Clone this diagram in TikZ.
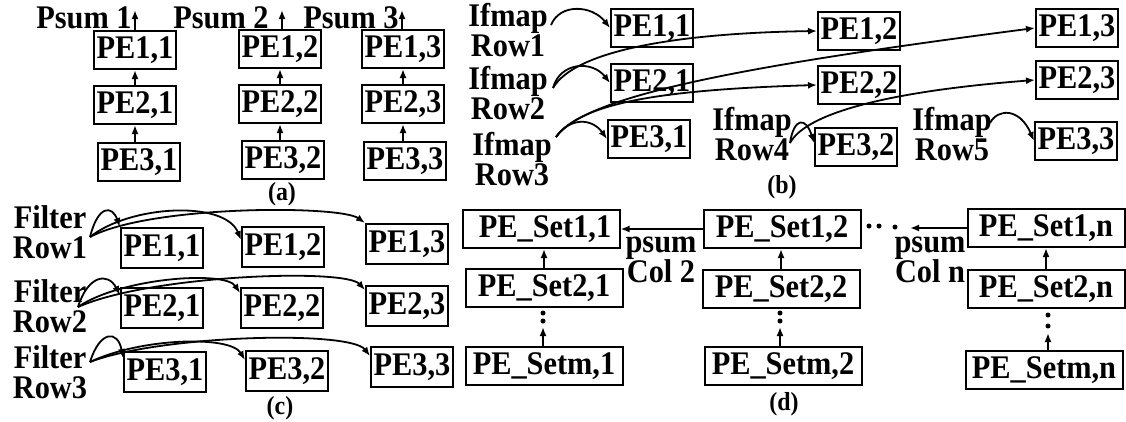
\documentclass[tikz,border=0pt]{standalone}
\usepackage{fontspec}
\setmainfont{Liberation Serif}[FakeStretch=0.92]
\usetikzlibrary{arrows.meta}
\newcommand\pefont{\fontsize{33}{30}\selectfont\lineskiplimit=-8pt\bfseries}
\newcommand\capfont{\fontsize{26}{26}\selectfont\bfseries}
\tikzset{
  pe/.style={draw, line width=2pt, inner sep=0pt, minimum width=82pt, minimum height=38pt, font=\pefont},
  peset/.style={pe, minimum width=157pt},
  lbl/.style={align=center, inner sep=0pt, font=\pefont},
  sublbl/.style={inner sep=0pt, font=\capfont, anchor=base},
  arr/.style={line width=1.8pt, -{Latex[length=9pt,width=7pt]}},
  dot/.style={fill, circle, inner sep=0pt, minimum size=5pt},
}
\begin{document}
\begin{tikzpicture}[x=1pt, y=-1pt]
\useasboundingbox (0,0) rectangle (1126,421);

% ---------------- (a) partial sums flow up each column ----------------
\node[lbl, anchor=base] (ps1) at (84,28) {Psum 1};
\node[lbl, anchor=base] (ps2) at (221,28) {Psum 2};
\node[lbl, anchor=base] (ps3) at (351,28) {Psum 3};
\node[pe] (A11) at (135,50) {PE1,1};
\node[pe] (A21) at (135,105) {PE2,1};
\node[pe] (A31) at (139,162) {PE3,1};
\node[pe] (A12) at (280,49) {PE1,2};
\node[pe] (A22) at (280,104) {PE2,2};
\node[pe] (A32) at (283,160) {PE3,2};
\node[pe] (A13) at (403,49) {PE1,3};
\node[pe] (A23) at (403,104) {PE2,3};
\node[pe] (A33) at (405,161) {PE3,3};
\coordinate (P1t) at (135,10);
\coordinate (P2t) at (282,10);
\coordinate (P3t) at (402,10);
\draw[arr] (A11.north) -- (P1t);
\draw[arr] (A12.north -| P2t) -- (P2t);
\draw[arr] (A13.north -| P3t) -- (P3t);
\draw[arr] (A21.south |- A31.north) -- (A21.south);
\draw[arr] (A21.north) -- (A11.south);
\draw[arr] (A22.south |- A32.north) -- (A22.south);
\draw[arr] (A22.north) -- (A12.south);
\draw[arr] (A23.south |- A33.north) -- (A23.south);
\draw[arr] (A23.north) -- (A13.south);
\node[sublbl] (capa) at (282,200) {(a)};

% ---------------- (b) ifmap rows along the diagonals ----------------
\node[lbl] (R1) at (508,30) {Ifmap\\Row1};
\node[lbl] (R2) at (508,93) {Ifmap\\Row2};
\node[lbl] (R3) at (512,159) {Ifmap\\Row3};
\node[lbl] (R4) at (752,134) {Ifmap\\Row4};
\node[lbl] (R5) at (952,134) {Ifmap\\Row5};
\node[pe] (B11) at (652,28) {PE1,1};
\node[pe] (B21) at (652,83) {PE2,1};
\node[pe] (B31) at (649,139) {PE3,1};
\node[pe] (B12) at (859,31) {PE1,2};
\node[pe] (B22) at (859,85) {PE2,2};
\node[pe] (B32) at (856,147) {PE3,2};
\node[pe] (B13) at (1077,28) {PE1,3};
\node[pe] (B23) at (1077,80) {PE2,3};
\node[pe] (B33) at (1076,141) {PE3,3};
\coordinate (r1s) at (551,25);
\coordinate (r2s) at (553,88);
\coordinate (r3s) at (556,137);
\coordinate (r4s) at (790,143);
\coordinate (r5s) at (990,123);
\draw[arr] (r1s) .. controls (560,3) and (592,5) .. (B11.west);
\draw[arr] (r2s) .. controls (560,62) and (592,60) .. (B21.west);
\draw[arr] (r2s) .. controls (575,50) and (680,33) .. (B12.west);
\draw[arr] (r3s) .. controls (570,117) and (592,118) .. (B31.west);
\draw[arr] (r3s) .. controls (580,105) and (650,90) .. (B22.west);
\draw[arr] (r3s) .. controls (585,95) and (750,65) .. (B13.west);
\draw[arr] (r4s) .. controls (794,117) and (806,117) .. ([yshift=4pt]B32.west);
\draw[arr] (r4s) .. controls (805,115) and (880,92) .. (B23.west);
\draw[arr] (r5s) .. controls (998,108) and (1020,108) .. (B33.west);
\node[sublbl] (capb) at (782,193) {(b)};

% ---------------- (c) filter rows reused along each row ----------------
\node[lbl] (F1) at (50,232) {Filter\\Row1};
\node[lbl] (F2) at (50,306) {Filter\\Row2};
\node[lbl] (F3) at (50,372) {Filter\\Row3};
\node[pe, minimum height=40pt] (C11) at (162,248) {PE1,1};
\node[pe, minimum height=40pt] (C12) at (283,247) {PE1,2};
\node[pe, minimum height=40pt] (C13) at (407,244) {PE1,3};
\node[pe, minimum height=40pt] (C21) at (162,308) {PE2,1};
\node[pe, minimum height=40pt] (C22) at (282,308) {PE2,2};
\node[pe, minimum height=40pt] (C23) at (407,306) {PE2,3};
\node[pe, minimum height=40pt] (C31) at (165,372) {PE3,1};
\node[pe, minimum height=40pt] (C32) at (287,371) {PE3,2};
\node[pe, minimum height=40pt] (C33) at (412,367) {PE3,3};
\coordinate (f1s) at (90,237);
\coordinate (f2s) at (78,307);
\coordinate (f3s) at (90,362);
\draw[arr] (f1s) .. controls (98,205) and (112,205) .. (C11.north west);
\draw[arr] (f1s) .. controls (130,205) and (225,200) .. ([yshift=-14pt]C12.north west);
\draw[arr] (f1s) .. controls (150,205) and (340,205) .. (C13.north west);
\draw[arr] (f2s) .. controls (88,275) and (108,272) .. ([yshift=-8pt]C21.north west);
\draw[arr] (f2s) .. controls (120,278) and (225,270) .. ([yshift=-6pt]C22.north west);
\draw[arr] (f2s) .. controls (150,275) and (345,268) .. ([yshift=-5pt]C23.north west);
\draw[arr] (f3s) .. controls (100,330) and (118,330) .. ([yshift=-7pt]C31.north west);
\draw[arr] (f3s) .. controls (140,338) and (230,335) .. ([yshift=-10pt]C32.north west);
\draw[arr] (f3s) .. controls (160,335) and (350,330) .. ([yshift=-10pt]C33.north west);
\node[sublbl] (capc) at (280,414) {(c)};

% ---------------- (d) PE sets with psum passed between columns ----------------
\node[peset] (D11) at (541,229) {\hspace{8pt}PE\_Set1,1};
\node[peset] (D21) at (544,288) {PE\_Set2,1};
\node[peset] (Dm1) at (544,366) {PE\_Setm,1};
\node[peset] (D12) at (782,229) {PE\_Set1,2};
\node[peset] (D22) at (781,289) {PE\_Set2,2};
\node[peset] (Dm2) at (783,366) {PE\_Setm,2};
\node[peset] (D1n) at (1046,228) {PE\_Set1,n};
\node[peset] (D2n) at (1046,289) {PE\_Set2,n};
\node[peset] (Dmn) at (1044,370) {PE\_Setm,n};
\node[lbl] (pc2) at (661,260) {psum\\Col 2};
\node[lbl] (pcn) at (930,260) {psum\\Col n};

\draw[arr] (D21.north) -- (D21.north |- D11.south);
\draw[arr] (D22.north) -- (D22.north |- D12.south);
\draw[arr] (D2n.north) -- (D2n.north |- D1n.south);
\coordinate (e1) at (543,327);
\coordinate (e2) at (780,327);
\coordinate (en) at (1048,333);
\draw[arr] (Dm1.north -| e1) -- (e1);
\draw[arr] (Dm2.north -| e2) -- (e2);
\draw[arr] (Dmn.north -| en) -- (en);
\node[dot] (v11) at (543,313) {};
\node[dot] (v12) at (543,321) {};
\node[dot] (v21) at (780,313) {};
\node[dot] (v22) at (780,321) {};
\node[dot] (vn1) at (1048,315) {};
\node[dot] (vn2) at (1048,326) {};

\draw[arr] (D12.west) -- (D11.east);
\coordinate (hn) at (910,228);
\draw[arr] (D1n.west) -- (hn);
\node[dot] (h1) at (869,226) {};
\node[dot] (h2) at (879,226) {};
\node[dot] (h3) at (895,227) {};
\node[sublbl] (capd) at (784,410) {(d)};
\end{tikzpicture}
\end{document}
